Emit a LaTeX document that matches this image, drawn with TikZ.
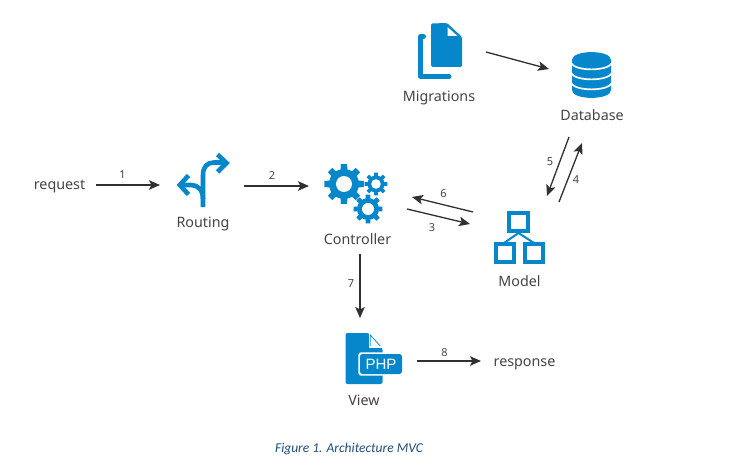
\documentclass[tikz,border=0pt]{standalone}
\usepackage{fontspec}
\setmainfont{Noto Sans}
\newfontfamily\capfont{Carlito}
\newfontfamily\phpfont{Liberation Sans}
\usetikzlibrary{arrows.meta}
\definecolor{iconblue}{HTML}{0787CB}
\definecolor{labelgrey}{HTML}{444444}
\definecolor{arrowgrey}{HTML}{303030}
\definecolor{capblue}{HTML}{1F4E79}
\tikzset{
  lbl/.style={font=\fontsize{14.3}{16}\selectfont, text=labelgrey, inner sep=0pt, anchor=base},
  num/.style={font=\fontsize{11}{12}\selectfont, text=labelgrey, inner sep=0pt, anchor=base},
  iconbox/.style={inner sep=0pt, outer sep=0pt, minimum width=#1},
  flow/.style={draw=arrowgrey, line width=1.3pt, -{Stealth[length=11pt,width=9.5pt,inset=2.5pt]}},
  blueline/.style={draw=iconblue, line width=4.6pt, line join=miter},
}
\newcommand{\gearicon}[6]{% cx cy outer root hole teeth
  \fill[iconblue] (#1,#2) circle[radius=#4];
  \pgfmathsetmacro{\gstep}{360/#6}
  \pgfmathsetmacro{\ghalf}{\gstep*0.31}
  \pgfmathsetmacro{\gtop}{\gstep*0.2}
  \foreach \gi in {1,...,#6}{
    \pgfmathsetmacro{\ga}{\gi*\gstep}
    \fill[iconblue] ([shift={(#1,#2)}]\ga-\ghalf:#4-1)
      -- ([shift={(#1,#2)}]\ga-\gtop:#3) -- ([shift={(#1,#2)}]\ga+\gtop:#3)
      -- ([shift={(#1,#2)}]\ga+\ghalf:#4-1) -- cycle;
  }
  \fill[white] (#1,#2) circle[radius=#5];
}
\newcommand{\dbarc}[1]{%
  \draw[white, line width=1.7pt] (571,#1) .. controls (575,#1+8.5) and (608,#1+8.5) .. (612,#1);
}
\begin{document}
\begin{tikzpicture}[x=1pt,y=-1pt]
\useasboundingbox (0,0) rectangle (739,468);
\fill[white] (0,0) rectangle (739,468);

% Routing icon
\draw[blueline] (203,207) -- (203,175) .. controls (203,167) and (207,162.5) .. (214,162.5) -- (226,162.5);
\draw[blueline] (217.5,154.5) -- (226.5,163) -- (217.5,172);
\draw[blueline] (203,199) .. controls (203,190) and (198,185) .. (191,185) -- (180,185);
\draw[blueline] (188.5,175.5) -- (179.8,185) -- (188.5,194.5);

% Gears
\gearicon{344}{184}{20}{15}{8}{8}
\gearicon{376}{184}{11.5}{8.5}{4.8}{8}
\gearicon{368}{209}{14.5}{11}{6}{8}

% Migrations icon
\fill[iconblue, rounded corners=1.5pt] (431,23.5) -- (447,23) -- (462,37) -- (462,67) -- (431,67) -- cycle;
\fill[white] (447.5,27) -- (447.5,36) -- (457.5,36) -- cycle;
\draw[iconblue, line width=5pt, line cap=round, line join=round] (423.5,36.5) -- (420.5,36.5) -- (420.5,76.5) -- (449,76.5);

% Database icon
\fill[iconblue] (572,60) .. controls (572,49.5) and (611,49.5) .. (611,60) -- (611,90) .. controls (611,100.5) and (572,100.5) .. (572,90) -- cycle;
\dbarc{63}
\dbarc{73}
\dbarc{83}

% Model icon
\draw[iconblue, line width=4.2pt] (509.1,213.1) rectangle (527.9,230.9);
\draw[iconblue, line width=4.2pt] (496.1,244.1) rectangle (513.9,261.9);
\draw[iconblue, line width=4.2pt] (525.1,244.1) rectangle (542.9,261.9);
\draw[iconblue, line width=2pt] (504,243) -- (518.5,233) -- (534,243);

% View icon
\fill[iconblue, rounded corners=2pt] (345.5,333) -- (369,333) -- (382.5,348) -- (382.5,384) -- (345.5,384) -- cycle;
\fill[white] (370.5,336) -- (370.5,346) -- (379.5,346) -- cycle;
\draw[white, line width=1.1pt] (369.5,333) -- (369.5,347) -- (382.5,347);
\fill[white, rounded corners=3pt] (358.3,352.3) rectangle (404,375.7);
\fill[iconblue, rounded corners=2.5pt] (360,354) rectangle (402,374);
\node[iconbox=1pt, text=white, font=\phpfont\fontsize{15}{15}\selectfont, inner sep=0pt] (phptext) at (381,364) {PHP};

% Invisible anchors of the icons
\node[iconbox=55pt] (routing) at (203.5,180) {};
\node[iconbox=64pt] (gears) at (355,196) {};
\node[iconbox=45pt] (migrations) at (440,51) {};
\node[iconbox=39pt] (database) at (591.5,75.5) {};
\node[iconbox=51pt] (model) at (519.5,237.5) {};
\node[iconbox=57pt] (view) at (373.5,358.5) {};

% Text
\node[lbl] (request) at (59.5,189.5) {request};
\node[lbl] (routingtext) at (203,227) {Routing};
\node[lbl] (controllertext) at (357.5,244) {Controller};
\node[lbl] (migrationstext) at (439,102) {Migrations};
\node[lbl] (databasetext) at (592,120.5) {Database};
\node[lbl] (modeltext) at (519.5,286) {Model};
\node[lbl] (viewtext) at (364,405) {View};
\node[lbl] (response) at (524.5,366) {response};
\node[font=\capfont\itshape\fontsize{13.5}{15}\selectfont, text=capblue, inner sep=0pt] (caption) at (349,449) {Figure 1. Architecture MVC};

% Connectors
\draw[flow] ([shift={(36.5,-4.5)}]request.base) -- ([shift={(-43.5,5)}]routing.center);
\draw[flow] ([shift={(40.5,6)}]routing.center) -- ([shift={(-46,-10)}]gears.center);
\draw[flow] ([shift={(52,13)}]gears.center) -- ([shift={(-49.5,-13.5)}]model.center);
\draw[flow] ([shift={(39.5,-35.5)}]model.center) -- ([shift={(-10,22.5)}]databasetext.base);
\draw[flow] ([shift={(-23,16.5)}]databasetext.base) -- ([shift={(27.5,-41.5)}]model.center);
\draw[flow] ([shift={(-46.5,-25.5)}]model.center) -- ([shift={(57,1)}]gears.center);
\draw[flow] ([shift={(2.5,10)}]controllertext.base) -- ([shift={(-13.5,-40.5)}]view.center);
\draw[flow] ([shift={(43.5,2.5)}]view.center) -- ([shift={(-43.5,-5)}]response.base);
\draw[flow] ([shift={(46,1)}]migrations.center) -- ([shift={(-42.5,-6.5)}]database.center);

% Connector labels
\node[num] (n1) at (122.5,178.5) {1};
\node[num] (n2) at (272,179.5) {2};
\node[num] (n3) at (432,231) {3};
\node[num] (n4) at (576,183.5) {4};
\node[num] (n5) at (550,165) {5};
\node[num] (n6) at (443.5,197.5) {6};
\node[num] (n7) at (351,287) {7};
\node[num] (n8) at (444.5,356.5) {8};
\end{tikzpicture}
\end{document}
